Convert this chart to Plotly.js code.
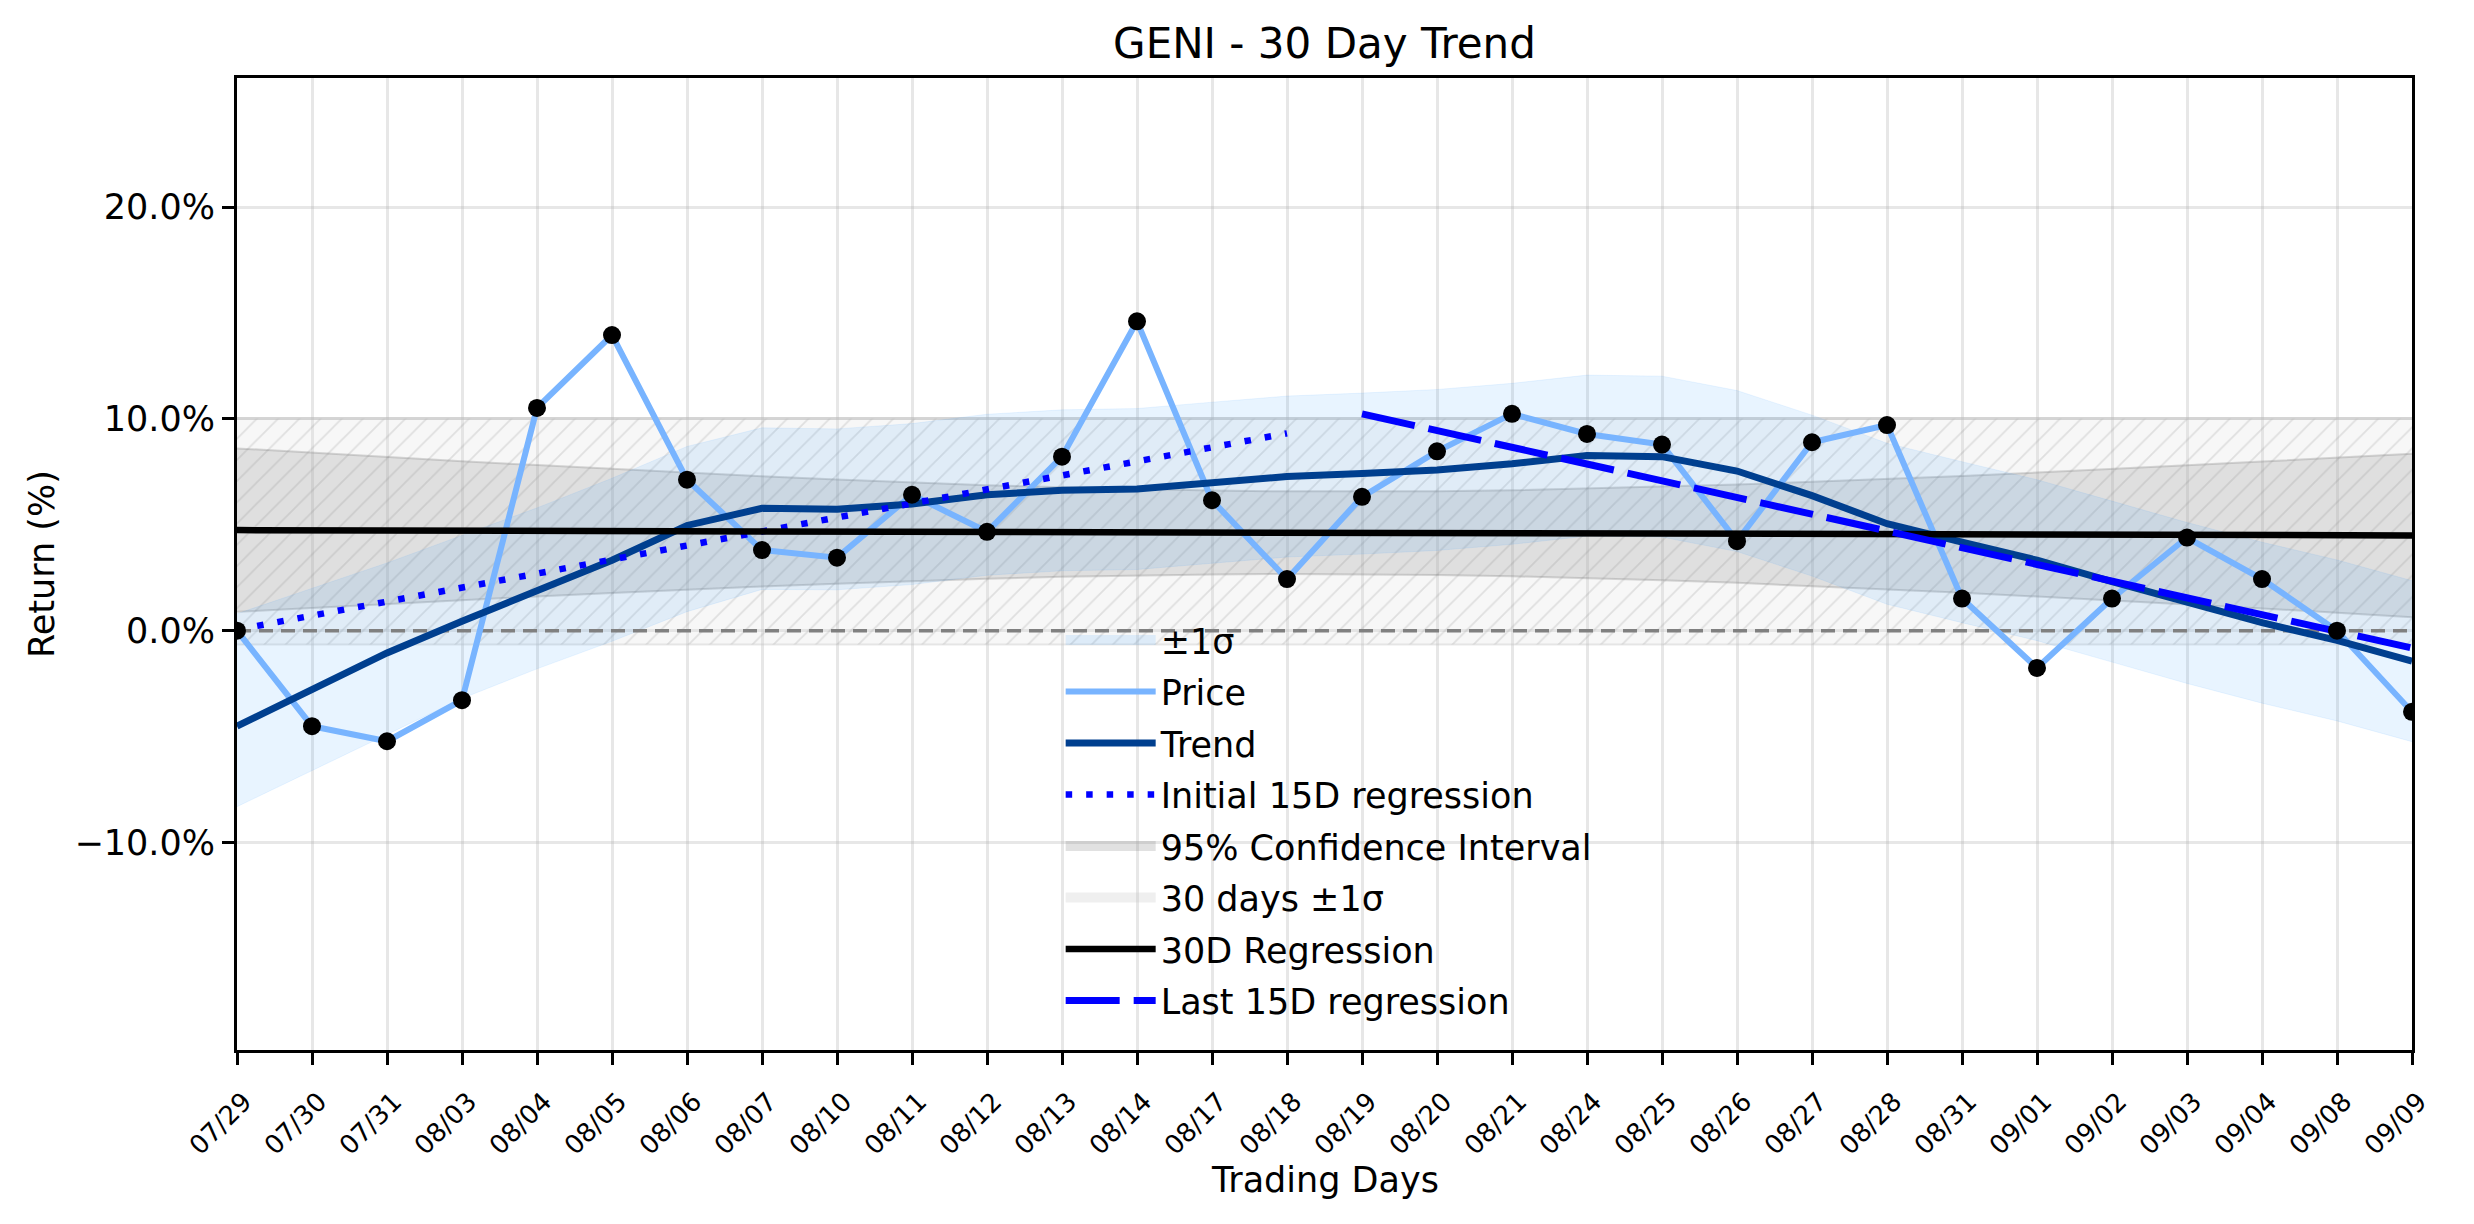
<!DOCTYPE html>
<html>
<head>
<meta charset="utf-8">
<script src="https://cdn.plot.ly/plotly-3.0.1.min.js"></script>
<style>
  html, body { margin: 0; padding: 0; background: #fff; }
  #chart { width: 2474px; height: 1224px; }
</style>
</head>
<body>
<div id="chart"></div>
<script>
// trading days on the x axis (index 0..29)
var days = ['07/29', '07/30', '07/31', '08/03', '08/04', '08/05', '08/06', '08/07', '08/10', '08/11',
            '08/12', '08/13', '08/14', '08/17', '08/18', '08/19', '08/20', '08/21', '08/24', '08/25',
            '08/26', '08/27', '08/28', '08/31', '09/01', '09/02', '09/03', '09/04', '09/08', '09/09'];

// cumulative return, %
var price = [0.0, -4.51, -5.22, -3.28, 10.52, 13.96, 7.13, 3.81, 3.45, 6.42,
             4.67, 8.22, 14.61, 6.16, 2.44, 6.32, 8.47, 10.24, 9.29, 8.79,
             4.23, 8.90, 9.71, 1.52, -1.76, 1.52, 4.40, 2.44, 0.0, -3.83];

// smoothed trend
var trend = [-4.51, -2.82, -1.05, 0.45, 1.90, 3.33, 4.97, 5.78, 5.73, 5.98,
             6.42, 6.63, 6.69, 6.99, 7.28, 7.42, 7.59, 7.88, 8.27, 8.22,
             7.54, 6.38, 5.05, 4.18, 3.33, 2.32, 1.31, 0.38, -0.46, -1.44];

// +/- 1 sigma band around the trend
var sigmaHi = [0.80, 2.00, 3.20, 4.50, 5.80, 7.20, 8.70, 9.58, 9.53, 9.78,
               10.22, 10.43, 10.49, 10.79, 11.08, 11.22, 11.39, 11.68, 12.07, 12.02,
               11.34, 10.18, 8.85, 7.98, 7.13, 6.12, 5.11, 4.18, 3.34, 2.36];
var sigmaLo = [-8.31, -6.60, -4.90, -3.20, -1.80, -0.50, 0.90, 1.95, 1.93, 2.18,
               2.62, 2.83, 2.89, 3.19, 3.48, 3.62, 3.79, 4.08, 4.47, 4.42,
               3.74, 2.58, 1.25, 0.38, -0.47, -1.48, -2.49, -3.42, -4.26, -5.24];

// 95% confidence interval of the 30D regression
var ciHi = [8.61, 8.40, 8.20, 8.00, 7.82, 7.64, 7.46, 7.29, 7.14, 6.99,
            6.87, 6.77, 6.68, 6.62, 6.58, 6.57, 6.59, 6.63, 6.71, 6.80,
            6.90, 7.03, 7.16, 7.31, 7.47, 7.63, 7.81, 7.99, 8.17, 8.36];
var ciLo = [0.89, 1.08, 1.26, 1.44, 1.62, 1.78, 1.94, 2.09, 2.22, 2.35,
            2.45, 2.55, 2.62, 2.66, 2.68, 2.67, 2.63, 2.57, 2.49, 2.38,
            2.26, 2.11, 1.96, 1.79, 1.61, 1.43, 1.25, 1.05, 0.85, 0.64];

// straight lines, given by their end points
var ends30 = [0, 29];
var reg30 = [4.75, 4.50];
var band30Hi = [10.02, 10.02];
var band30Lo = [-0.65, -0.65];
var zeroY = [0, 0];
var firstEnds = [0, 14];
var firstReg = [0.05, 9.32];
var lastEnds = [15, 29];
var lastReg = [10.24, -0.82];

var yTicks = [-10, 0, 10, 20];
var yTickText = ['\u221210.0%', '0.0%', '10.0%', '20.0%'];

var idx = days.map(function (d, i) { return i; });
var FONT = 'DejaVu Sans, Liberation Sans, sans-serif';

// plotly draws fill legends as thin strips, so the patch entries get their own
// legend-only traces drawn as thick bars
function patchEntry(name, rank, color) {
  return { x: [null], y: [null], type: 'scatter', mode: 'lines', name: name,
           legendrank: rank, legendgroup: 'g' + rank,
           line: { color: color, width: 23 }, hoverinfo: 'skip' };
}

var data = [
  // 30 days +/- 1 sigma (hatched)
  { x: ends30, y: band30Lo, type: 'scatter', mode: 'lines',
    line: { color: 'rgba(190,190,190,0.35)', width: 2 },
    showlegend: false, hoverinfo: 'skip' },
  { x: ends30, y: band30Hi, type: 'scatter', mode: 'lines', fill: 'tonexty',
    line: { color: 'rgba(190,190,190,0.45)', width: 3 },
    fillcolor: 'rgba(215,215,215,0.2)',
    fillpattern: { shape: '/', bgcolor: 'rgba(215,215,215,0.2)', fgcolor: 'rgba(150,150,150,0.25)',
                   size: 15, solidity: 0.12 },
    showlegend: false, hoverinfo: 'skip' },
  // 95% confidence interval
  { x: idx, y: ciLo, type: 'scatter', mode: 'lines',
    line: { color: 'rgba(128,128,128,0.3)', width: 2 },
    showlegend: false, hoverinfo: 'skip' },
  { x: idx, y: ciHi, type: 'scatter', mode: 'lines', fill: 'tonexty',
    line: { color: 'rgba(128,128,128,0.3)', width: 2 },
    fillcolor: 'rgba(128,128,128,0.2)', showlegend: false, hoverinfo: 'skip' },
  // +/- 1 sigma around trend
  { x: idx, y: sigmaLo, type: 'scatter', mode: 'lines',
    line: { color: 'rgba(30,144,255,0.08)', width: 1 },
    showlegend: false, hoverinfo: 'skip' },
  { x: idx, y: sigmaHi, type: 'scatter', mode: 'lines', fill: 'tonexty',
    line: { color: 'rgba(30,144,255,0.08)', width: 1 },
    fillcolor: 'rgba(30,144,255,0.1)', showlegend: false, hoverinfo: 'skip' },
  // zero line
  { x: ends30, y: zeroY, type: 'scatter', mode: 'lines',
    line: { color: '#808080', width: 3.5, dash: '14px,8px' },
    showlegend: false, hoverinfo: 'skip' },
  // price
  { x: idx, y: price, type: 'scatter', mode: 'lines', name: 'Price',
    legendrank: 2, legendgroup: 'g2',
    line: { color: '#78b4ff', width: 6 } },
  // trend
  { x: idx, y: trend, type: 'scatter', mode: 'lines', name: 'Trend',
    legendrank: 3, legendgroup: 'g3',
    line: { color: '#003f8f', width: 7 } },
  // initial 15D regression
  { x: firstEnds, y: firstReg, type: 'scatter', mode: 'lines', name: 'Initial 15D regression',
    legendrank: 4, legendgroup: 'g4',
    line: { color: '#0000ff', width: 6.5, dash: '6.5px,14px' } },
  // 30D regression
  { x: ends30, y: reg30, type: 'scatter', mode: 'lines', name: '30D Regression',
    legendrank: 7, legendgroup: 'g7',
    line: { color: '#000000', width: 6.5 } },
  // last 15D regression
  { x: lastEnds, y: lastReg, type: 'scatter', mode: 'lines', name: 'Last 15D regression',
    legendrank: 8, legendgroup: 'g8',
    line: { color: '#0000ff', width: 7, dash: '54px,14px' } },
  // daily closes
  { x: idx, y: price, type: 'scatter', mode: 'markers',
    marker: { color: '#000000', size: 18 },
    showlegend: false, hoverinfo: 'y' },
  // legend patches
  patchEntry('\u00b11\u03c3', 1, 'rgba(30,144,255,0.12)'),
  patchEntry('95% Confidence Interval', 5, 'rgba(128,128,128,0.24)'),
  patchEntry('30 days \u00b11\u03c3', 6, 'rgba(190,190,190,0.25)')
];

var layout = {
  width: 2474,
  height: 1224,
  paper_bgcolor: '#ffffff',
  plot_bgcolor: '#ffffff',
  margin: { l: 237, r: 62, t: 78, b: 174 },
  font: { family: FONT, color: '#000000', size: 35 },
  title: { text: 'GENI - 30 Day Trend', font: { family: FONT, size: 42, color: '#000' },
           x: 0.5, xref: 'paper', y: 1 - 43 / 1224, yref: 'container', yanchor: 'middle' },
  showlegend: true,
  legend: {
    x: 0.3787, y: 0.452, xanchor: 'left', yanchor: 'top',
    bgcolor: 'rgba(0,0,0,0)', borderwidth: 0,
    font: { family: FONT, size: 35, color: '#000' },
    itemwidth: 90, tracegroupgap: 3, traceorder: 'grouped'
  },
  annotations: [
    { text: 'Trading Days', xref: 'paper', yref: 'paper', x: 0.5, y: -0.1337,
      xanchor: 'center', yanchor: 'middle', showarrow: false,
      font: { family: FONT, size: 35, color: '#000' } }
  ],
  xaxis: {
    range: [0, 29], tickmode: 'array', tickvals: idx, ticktext: days,
    tickangle: -45, tickfont: { family: FONT, size: 26 },
    ticklabelshift: 7, ticklabelstandoff: 11,
    ticks: 'outside', ticklen: 12, tickwidth: 3, tickcolor: '#000',
    showline: true, linecolor: '#000', linewidth: 3, mirror: true,
    showgrid: true, gridcolor: 'rgba(176,176,176,0.3)', gridwidth: 3,
    zeroline: false
  },
  yaxis: {
    range: [-19.8, 26.1], tickmode: 'array', tickvals: yTicks, ticktext: yTickText,
    tickfont: { family: FONT, size: 35 },
    ticks: 'outside', ticklen: 12, tickwidth: 3, tickcolor: '#000',
    showline: true, linecolor: '#000', linewidth: 3, mirror: true,
    showgrid: true, gridcolor: 'rgba(176,176,176,0.3)', gridwidth: 3,
    zeroline: false,
    title: { text: 'Return (%)', font: { family: FONT, size: 35 }, standoff: 10 }
  }
};

Plotly.newPlot('chart', data, layout, { staticPlot: true });
</script>
</body>
</html>
